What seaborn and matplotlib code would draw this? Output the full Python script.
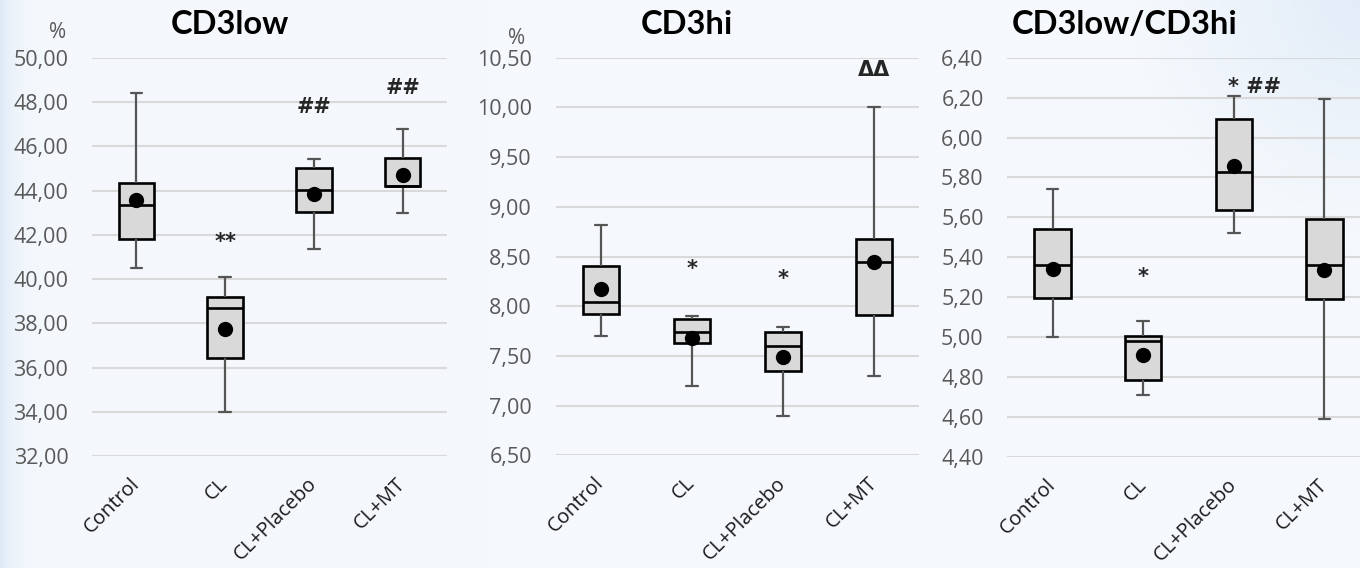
import numpy as np
import pandas as pd
import matplotlib
matplotlib.use('Agg')
import matplotlib.pyplot as plt
import seaborn as sns
from matplotlib.ticker import FuncFormatter, MultipleLocator

# ===================== data =====================
groups = ['Control', 'CL', 'CL+Placebo', 'CL+MT']

# per group: whisker low, Q1, median, Q3, whisker high
cd3low_box = [[40.48, 41.83, 43.35, 44.34, 48.42],
              [34.00, 36.44, 38.69, 39.20, 40.08],
              [41.37, 43.05, 44.03, 45.01, 45.43],
              [43.00, 44.20, 44.20, 45.46, 46.79]]
cd3low_mean = [43.60, 37.74, 43.83, 44.70]
cd3low_marks = ['', '**', '##', '##']
cd3low_mark_y = [0, 41.7, 47.8, 48.64]

cd3hi_box = [[7.70, 7.92, 8.045, 8.40, 8.82],
             [7.20, 7.627, 7.74, 7.868, 7.898],
             [6.90, 7.35, 7.60, 7.74, 7.79],
             [7.30, 7.915, 8.44, 8.673, 10.00]]
cd3hi_mean = [8.17, 7.677, 7.49, 8.445]
cd3hi_marks = ['', '*', '*', 'ΔΔ']
cd3hi_mark_y = [0, 8.37, 8.27, 10.38]

ratio_box = [[5.00, 5.198, 5.36, 5.54, 5.742],
             [4.712, 4.785, 4.979, 5.006, 5.081],
             [5.52, 5.637, 5.826, 6.091, 6.208],
             [4.59, 5.191, 5.361, 5.593, 6.193]]
ratio_mean = [5.34, 4.912, 5.859, 5.335]
ratio_marks = ['', '*', '* ##', '']
ratio_mark_y = [0, 5.30, 6.255, 0]

# ===================== style =====================
W, H = 1360, 568
sns.set_style('white')
plt.rcParams['font.family'] = ['Open Sans', 'DejaVu Sans']

fig = plt.figure(figsize=(W / 100, H / 100), dpi=100)
fig.patch.set_facecolor('#F5F9FD')

# soft blue background gradient at the edges
bg = fig.add_axes([0, 0, 1, 1], zorder=-5)
xx, yy = np.meshgrid(np.arange(W), np.arange(H))
base = np.array([245, 249, 253]) / 255
edge = np.array([222, 233, 246]) / 255
w = np.exp(-xx / 14.0)
w = np.maximum(w, np.clip(1 - np.hypot(W - xx, yy) / 230, 0, 1) * 0.8)
img = base[None, None, :] * (1 - w[..., None]) + edge[None, None, :] * w[..., None]
bg.imshow(img, aspect='auto', extent=[0, 1, 0, 1])
bg.axis('off')

gray = '#595959'
comma = FuncFormatter(lambda v, _: f'{v:.2f}'.replace('.', ','))


def add_panel(rect, box, means, marks, mark_y, ylim, step, title, title_xy, pct_xy=None):
    l, r, t, b = rect
    ax = fig.add_axes([l / W, 1 - b / H, (r - l) / W, (b - t) / H])
    ax.set_facecolor('none')

    df = pd.DataFrame({'group': np.repeat(groups, 5), 'value': np.ravel(box)})
    sns.boxplot(data=df, x='group', y='value', order=groups, whis=np.inf,
                width=0.4, color='#D9D9D9', saturation=1, linecolor='black',
                linewidth=1.9, showfliers=False, ax=ax,
                whiskerprops={'color': '#555555', 'linewidth': 1.6},
                capprops={'color': '#555555', 'linewidth': 1.6},
                medianprops={'color': 'black', 'linewidth': 1.9},
                capwidths=0.13)
    sns.stripplot(x=groups, y=means, order=groups, jitter=False, color='black',
                  size=11, linewidth=0, ax=ax, zorder=6)

    for i, (txt, yv) in enumerate(zip(marks, mark_y)):
        if not txt:
            continue
        if ' ' in txt:
            ax.text(i - 0.06, yv, txt, ha='left', va='center', fontsize=15,
                    fontweight='bold', family='DejaVu Sans', clip_on=False, zorder=7)
        else:
            ax.text(i, yv, txt, ha='center', va='center', fontsize=15,
                    fontweight='bold', family='DejaVu Sans', clip_on=False, zorder=7)

    ax.set_xlim(-0.5, 3.5)
    ax.set_ylim(*ylim)
    ax.yaxis.set_major_locator(MultipleLocator(step))
    ax.yaxis.set_major_formatter(comma)
    ax.grid(axis='y', color='#D9D9D9', linewidth=1.5)
    ax.grid(axis='x', visible=False)
    ax.set_axisbelow(True)
    for s in ax.spines.values():
        s.set_visible(False)
    ax.set_xlabel('')
    ax.set_ylabel('')
    ax.tick_params(axis='y', length=0, pad=17, labelsize=15.5, labelcolor=gray)
    ax.tick_params(axis='x', length=0, pad=18, labelsize=14.5, labelcolor='#1a1a1a')
    for lab in ax.get_xticklabels():
        lab.set_rotation(45)
        lab.set_ha('right')
        lab.set_va('center')
        lab.set_rotation_mode('anchor')

    fig.text(title_xy[0] / W, 1 - title_xy[1] / H, title, ha='center', va='center',
             fontsize=23.5, fontweight='bold', family='Lato', color='black')
    if pct_xy is not None:
        fig.text(pct_xy[0] / W, 1 - pct_xy[1] / H, '%', ha='center', va='center',
                 fontsize=15, color=gray)
    return ax


add_panel((92, 447, 58, 456), cd3low_box, cd3low_mean, cd3low_marks, cd3low_mark_y,
          (32, 50), 2, 'CD3low', (230, 25), (58, 33))
add_panel((555.5, 919.5, 57.7, 455.3), cd3hi_box, cd3hi_mean, cd3hi_marks, cd3hi_mark_y,
          (6.5, 10.5), 0.5, 'CD3hi', (687, 25), (517, 38))
add_panel((1007.3, 1369.7, 57.7, 457), ratio_box, ratio_mean, ratio_marks, ratio_mark_y,
          (4.4, 6.4), 0.2, 'CD3low/CD3hi', (1125, 25))

fig.savefig('out.png', dpi=100, facecolor=fig.get_facecolor())
